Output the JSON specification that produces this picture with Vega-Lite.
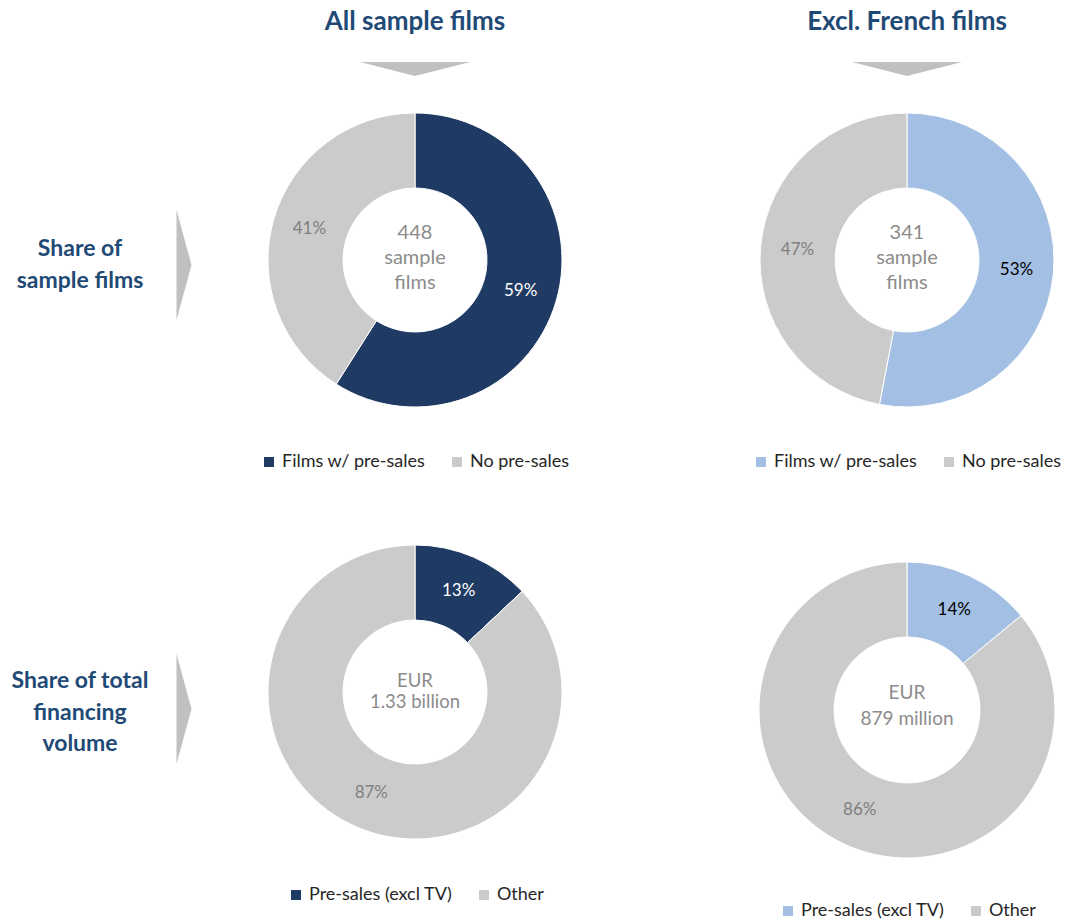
{
  "$schema": "https://vega.github.io/schema/vega-lite/v6.json",
  "padding": 0,
  "spacing": 0,
  "bounds": "flush",
  "columns": 5,
  "resolve": {"scale": {"color": "independent", "theta": "independent"}, "legend": {"color": "independent"}},
  "concat": [
    {"data": {"values": [{}]}, "mark": {"type": "point", "opacity": 0, "size": 0}, "encoding": {}, "width": 1, "height": 44},
    {"data": {"values": [{}]}, "mark": {"type": "point", "opacity": 0, "size": 0}, "encoding": {}, "width": 1, "height": 44},
    {"data": {"values": [{"t": "All sample films"}]}, "mark": {"type": "text", "fontSize": 26, "fontWeight": "bold", "color": "#1F4A75"}, "encoding": {"text": {"field": "t", "type": "nominal"}}, "width": 434, "height": 44},
    {"data": {"values": [{}]}, "mark": {"type": "point", "opacity": 0, "size": 0}, "encoding": {}, "width": 1, "height": 44},
    {"data": {"values": [{"t": "Excl. French films"}]}, "mark": {"type": "text", "fontSize": 26, "fontWeight": "bold", "color": "#1F4A75"}, "encoding": {"text": {"field": "t", "type": "nominal"}}, "width": 300, "height": 44},

    {"data": {"values": [{}]}, "mark": {"type": "point", "opacity": 0, "size": 0}, "encoding": {}, "width": 1, "height": 50},
    {"data": {"values": [{}]}, "mark": {"type": "point", "opacity": 0, "size": 0}, "encoding": {}, "width": 1, "height": 50},
    {"data": {"values": [{"arrow": "down"}]}, "mark": {"type": "point", "shape": "M-1,-0.127L1,-0.127L0,0.127Z", "size": 12100, "filled": true, "color": "#C0C0C0", "opacity": 1}, "encoding": {}, "width": 434, "height": 50},
    {"data": {"values": [{}]}, "mark": {"type": "point", "opacity": 0, "size": 0}, "encoding": {}, "width": 1, "height": 50},
    {"data": {"values": [{"arrow": "down"}]}, "mark": {"type": "point", "shape": "M-1,-0.127L1,-0.127L0,0.127Z", "size": 12100, "filled": true, "color": "#C0C0C0", "opacity": 1}, "encoding": {}, "width": 300, "height": 50},

    {"data": {"values": [{"t": "Share of\nsample films"}]}, "mark": {"type": "text", "fontSize": 23, "fontWeight": "bold", "color": "#1F4A75", "lineHeight": 32, "dy": -16, "dx": -5}, "encoding": {"text": {"field": "t", "type": "nominal"}}, "width": 170, "height": 342},
    {"data": {"values": [{"arrow": "right"}]}, "mark": {"type": "point", "shape": "M-0.136,-1L0.136,0L-0.136,1Z", "size": 12100, "filled": true, "color": "#C0C0C0", "opacity": 1}, "encoding": {}, "width": 28, "height": 342},
    {
      "width": 434, "height": 332,
      "data": {"values": [
        {"part": "Films w/ pre-sales", "share": 0.59, "i": 1},
        {"part": "No pre-sales", "share": 0.41, "i": 2}
      ]},
      "layer": [
        {"mark": {"type": "arc", "outerRadius": 147, "innerRadius": 72, "stroke": "#ffffff", "strokeWidth": 1},
         "encoding": {
           "theta": {"field": "share", "type": "quantitative", "stack": true},
           "order": {"field": "i", "type": "quantitative"},
           "color": {"field": "part", "type": "nominal", "scale": {"domain": ["Films w/ pre-sales", "No pre-sales"], "range": ["#1F3A63", "#CBCBCB"]}, "legend": {"title": null, "orient": "bottom", "offset": 27}}
         }},
        {"mark": {"type": "text", "radius": 110, "fontSize": 17},
         "encoding": {
           "theta": {"field": "share", "type": "quantitative", "stack": true},
           "order": {"field": "i", "type": "quantitative"},
           "text": {"field": "share", "type": "quantitative", "format": ".0%"},
           "color": {"condition": {"test": "datum.i === 1", "value": "#FFFFFF"}, "value": "#7F7F7F"}
         }},
        {"data": {"values": [{"t": "448\nsample\nfilms"}]},
         "mark": {"type": "text", "fontSize": 20, "color": "#8C8C8C", "lineHeight": 25, "dy": -27},
         "encoding": {"text": {"field": "t", "type": "nominal"}}}
      ]
    },
    {"data": {"values": [{}]}, "mark": {"type": "point", "opacity": 0, "size": 0}, "encoding": {}, "width": 125, "height": 448},
    {
      "width": 300, "height": 332,
      "data": {"values": [
        {"part": "Films w/ pre-sales", "share": 0.53, "i": 1},
        {"part": "No pre-sales", "share": 0.47, "i": 2}
      ]},
      "layer": [
        {"mark": {"type": "arc", "outerRadius": 147, "innerRadius": 72, "stroke": "#ffffff", "strokeWidth": 1},
         "encoding": {
           "theta": {"field": "share", "type": "quantitative", "stack": true},
           "order": {"field": "i", "type": "quantitative"},
           "color": {"field": "part", "type": "nominal", "scale": {"domain": ["Films w/ pre-sales", "No pre-sales"], "range": ["#A3BFE3", "#CBCBCB"]}, "legend": {"title": null, "orient": "bottom", "offset": 27}}
         }},
        {"mark": {"type": "text", "radius": 110, "fontSize": 17},
         "encoding": {
           "theta": {"field": "share", "type": "quantitative", "stack": true},
           "order": {"field": "i", "type": "quantitative"},
           "text": {"field": "share", "type": "quantitative", "format": ".0%"},
           "color": {"condition": {"test": "datum.i === 1", "value": "#000000"}, "value": "#7F7F7F"}
         }},
        {"data": {"values": [{"t": "341\nsample\nfilms"}]},
         "mark": {"type": "text", "fontSize": 20, "color": "#8C8C8C", "lineHeight": 25, "dy": -27},
         "encoding": {"text": {"field": "t", "type": "nominal"}}}
      ]
    },

    {"data": {"values": [{"t": "Share of total\nfinancing\nvolume"}]}, "mark": {"type": "text", "fontSize": 23, "fontWeight": "bold", "color": "#1F4A75", "lineHeight": 31.5, "dy": -31, "dx": -5}, "encoding": {"text": {"field": "t", "type": "nominal"}}, "width": 170, "height": 340},
    {"data": {"values": [{"arrow": "right"}]}, "mark": {"type": "point", "shape": "M-0.136,-1L0.136,0L-0.136,1Z", "size": 12100, "filled": true, "color": "#C0C0C0", "opacity": 1}, "encoding": {}, "width": 28, "height": 334},
    {
      "width": 434, "height": 300,
      "data": {"values": [
        {"part": "Pre-sales (excl TV)", "share": 0.13, "i": 1},
        {"part": "Other", "share": 0.87, "i": 2}
      ]},
      "layer": [
        {"mark": {"type": "arc", "outerRadius": 147, "innerRadius": 72, "stroke": "#ffffff", "strokeWidth": 1},
         "encoding": {
           "theta": {"field": "share", "type": "quantitative", "stack": true},
           "order": {"field": "i", "type": "quantitative"},
           "color": {"field": "part", "type": "nominal", "scale": {"domain": ["Pre-sales (excl TV)", "Other"], "range": ["#1F3A63", "#CBCBCB"]}, "legend": {"title": null, "orient": "bottom", "offset": 44}}
         }},
        {"mark": {"type": "text", "radius": 110, "fontSize": 17},
         "encoding": {
           "theta": {"field": "share", "type": "quantitative", "stack": true},
           "order": {"field": "i", "type": "quantitative"},
           "text": {"field": "share", "type": "quantitative", "format": ".0%"},
           "color": {"condition": {"test": "datum.i === 1", "value": "#FFFFFF"}, "value": "#7F7F7F"}
         }},
        {"data": {"values": [{"t": "EUR\n1.33 billion"}]},
         "mark": {"type": "text", "fontSize": 18.5, "color": "#8C8C8C", "lineHeight": 21, "dy": -11},
         "encoding": {"text": {"field": "t", "type": "nominal"}}}
      ]
    },
    {"data": {"values": [{}]}, "mark": {"type": "point", "opacity": 0, "size": 0}, "encoding": {}, "width": 1, "height": 1},
    {
      "width": 300, "height": 336,
      "data": {"values": [
        {"part": "Pre-sales (excl TV)", "share": 0.14, "i": 1},
        {"part": "Other", "share": 0.86, "i": 2}
      ]},
      "layer": [
        {"mark": {"type": "arc", "outerRadius": 148, "innerRadius": 73, "stroke": "#ffffff", "strokeWidth": 1},
         "encoding": {
           "theta": {"field": "share", "type": "quantitative", "stack": true},
           "order": {"field": "i", "type": "quantitative"},
           "color": {"field": "part", "type": "nominal", "scale": {"domain": ["Pre-sales (excl TV)", "Other"], "range": ["#A3BFE3", "#CBCBCB"]}, "legend": {"title": null, "orient": "bottom", "offset": 24}}
         }},
        {"mark": {"type": "text", "radius": 111, "fontSize": 17},
         "encoding": {
           "theta": {"field": "share", "type": "quantitative", "stack": true},
           "order": {"field": "i", "type": "quantitative"},
           "text": {"field": "share", "type": "quantitative", "format": ".0%"},
           "color": {"condition": {"test": "datum.i === 1", "value": "#000000"}, "value": "#7F7F7F"}
         }},
        {"data": {"values": [{"t": "EUR\n879 million"}]},
         "mark": {"type": "text", "fontSize": 19, "color": "#8C8C8C", "lineHeight": 26, "dy": -17},
         "encoding": {"text": {"field": "t", "type": "nominal"}}}
      ]
    }
  ],
  "config": {
    "view": {"stroke": null},
    "font": "Lato",
    "text": {"font": "Lato", "lineBreak": "\n"},
    "legend": {
      "labelFont": "Lato",
      "labelFontSize": 18,
      "labelColor": "#262626",
      "labelOffset": 4,
      "symbolType": "square",
      "symbolSize": 100,
      "symbolStrokeWidth": 0,
      "columnPadding": 22,
      "direction": "horizontal",
      "layout": {"bottom": {"anchor": "middle"}}
    }
  }
}
